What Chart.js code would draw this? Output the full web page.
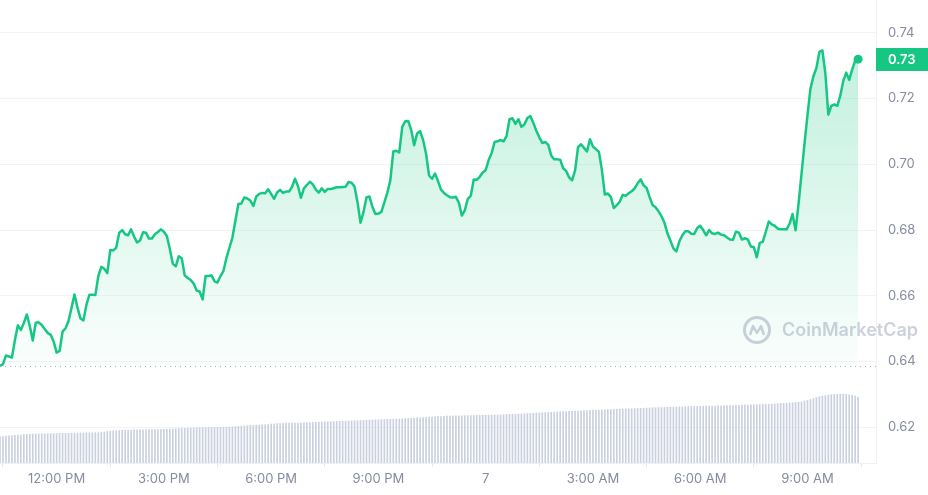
<!DOCTYPE html>
<html>
<head>
<meta charset="utf-8">
<script src="https://cdn.jsdelivr.net/npm/chart.js@4.4.1/dist/chart.umd.min.js"></script>
<style>
  html, body { margin: 0; padding: 0; background: #fff; }
  canvas { display: block; }
</style>
</head>
<body>
<canvas id="priceChart" width="928" height="495"></canvas>
<script>
// 5-minute closes, starting 10:25 AM (minutes counted from midnight of day 6)
const startMinute = 625;
const stepMinutes = 5;

const prices = [
  0.6386, 0.6392, 0.6418, 0.6415, 0.6412, 0.6465, 0.6510, 0.6496, 0.6517, 0.6543, 0.6508, 0.6464,
  0.6518, 0.6519, 0.6511, 0.6499, 0.6487, 0.6481, 0.6461, 0.6427, 0.6432, 0.6491, 0.6501, 0.6523,
  0.6563, 0.6604, 0.6564, 0.6531, 0.6525, 0.6572, 0.6603, 0.6603, 0.6602, 0.6660, 0.6688, 0.6682,
  0.6669, 0.6739, 0.6738, 0.6746, 0.6791, 0.6800, 0.6787, 0.6784, 0.6802, 0.6780, 0.6762, 0.6768,
  0.6793, 0.6792, 0.6774, 0.6774, 0.6787, 0.6794, 0.6802, 0.6795, 0.6782, 0.6742, 0.6697, 0.6690,
  0.6720, 0.6714, 0.6662, 0.6654, 0.6648, 0.6637, 0.6616, 0.6613, 0.6589, 0.6660, 0.6660, 0.6662,
  0.6644, 0.6640, 0.6660, 0.6676, 0.6715, 0.6746, 0.6777, 0.6828, 0.6879, 0.6881, 0.6899, 0.6896,
  0.6890, 0.6873, 0.6902, 0.6910, 0.6913, 0.6912, 0.6924, 0.6910, 0.6895, 0.6914, 0.6922, 0.6913,
  0.6917, 0.6917, 0.6931, 0.6956, 0.6934, 0.6898, 0.6927, 0.6937, 0.6947, 0.6939, 0.6923, 0.6914,
  0.6927, 0.6916, 0.6925, 0.6925, 0.6927, 0.6930, 0.6930, 0.6931, 0.6932, 0.6946, 0.6944, 0.6932,
  0.6884, 0.6822, 0.6855, 0.6899, 0.6902, 0.6870, 0.6849, 0.6850, 0.6855, 0.6884, 0.6914, 0.6951,
  0.7039, 0.7041, 0.7036, 0.7114, 0.7131, 0.7132, 0.7105, 0.7058, 0.7094, 0.7101, 0.7074, 0.7032,
  0.6966, 0.6956, 0.6972, 0.6949, 0.6923, 0.6913, 0.6906, 0.6900, 0.6899, 0.6901, 0.6883, 0.6844,
  0.6860, 0.6895, 0.6904, 0.6954, 0.6953, 0.6962, 0.6975, 0.6982, 0.7013, 0.7034, 0.7068, 0.7070,
  0.7074, 0.7070, 0.7086, 0.7137, 0.7140, 0.7123, 0.7137, 0.7114, 0.7121, 0.7141, 0.7147, 0.7126,
  0.7102, 0.7082, 0.7065, 0.7068, 0.7059, 0.7027, 0.7015, 0.7015, 0.7014, 0.6988, 0.6980, 0.6960,
  0.6951, 0.6981, 0.7052, 0.7061, 0.7050, 0.7039, 0.7076, 0.7054, 0.7046, 0.7038, 0.6983, 0.6908,
  0.6911, 0.6901, 0.6867, 0.6876, 0.6886, 0.6907, 0.6904, 0.6912, 0.6918, 0.6927, 0.6942, 0.6954,
  0.6936, 0.6928, 0.6901, 0.6876, 0.6869, 0.6857, 0.6842, 0.6822, 0.6790, 0.6768, 0.6744, 0.6735,
  0.6765, 0.6784, 0.6796, 0.6796, 0.6789, 0.6788, 0.6806, 0.6813, 0.6800, 0.6784, 0.6800, 0.6790,
  0.6788, 0.6792, 0.6786, 0.6784, 0.6777, 0.6771, 0.6770, 0.6795, 0.6792, 0.6771, 0.6775, 0.6771,
  0.6750, 0.6748, 0.6717, 0.6761, 0.6764, 0.6794, 0.6826, 0.6817, 0.6813, 0.6804, 0.6802, 0.6802,
  0.6802, 0.6819, 0.6849, 0.6799, 0.6879, 0.6971, 0.7062, 0.7150, 0.7230, 0.7268, 0.7293, 0.7342,
  0.7347, 0.7277, 0.7151, 0.7178, 0.7182, 0.7178, 0.7208, 0.7253, 0.7279, 0.7257, 0.7288, 0.7315,
  0.7320
];

// rolling volume (millions), one bar per price point
const volumeM = [
  26.3, 26.5, 26.8, 27.1, 27.3, 27.6, 27.8, 28.0, 28.3, 28.5, 28.8, 29.0,
  29.0, 29.1, 29.2, 29.2, 29.3, 29.4, 29.4, 29.5, 29.6, 29.6, 29.7, 29.8,
  29.8, 29.9, 30.0, 30.0, 30.1, 30.2, 30.2, 30.3, 30.3, 30.3, 30.6, 31.0,
  31.4, 31.7, 32.0, 32.2, 32.4, 32.6, 32.8, 33.0, 33.0, 33.1, 33.1, 33.2,
  33.2, 33.3, 33.3, 33.4, 33.4, 33.5, 33.6, 33.7, 33.8, 34.0, 34.1, 34.3,
  34.4, 34.6, 34.7, 34.9, 35.0, 35.0, 35.1, 35.2, 35.3, 35.3, 35.4, 35.5,
  35.6, 35.7, 35.7, 35.8, 35.9, 36.0, 36.2, 36.4, 36.6, 36.8, 37.0, 37.2,
  37.4, 37.6, 37.8, 38.0, 38.2, 38.3, 38.5, 38.8, 39.0, 39.3, 39.5, 39.7,
  39.8, 39.8, 39.9, 40.0, 40.0, 40.1, 40.2, 40.4, 40.5, 40.6, 40.7, 40.8,
  41.0, 41.1, 41.2, 41.3, 41.4, 41.6, 41.7, 41.8, 41.9, 42.0, 42.2, 42.3,
  42.4, 42.5, 42.6, 42.8, 42.9, 43.0, 43.1, 43.2, 43.4, 43.5, 43.6, 43.7,
  43.8, 43.9, 44.0, 44.2, 44.4, 44.5, 44.7, 44.9, 45.1, 45.2, 45.4, 45.6,
  45.8, 45.9, 46.1, 46.3, 46.5, 46.6, 46.8, 47.0, 47.0, 47.1, 47.2, 47.2,
  47.3, 47.4, 47.4, 47.5, 47.6, 47.6, 47.7, 47.8, 47.8, 47.9, 48.0, 48.0,
  48.1, 48.3, 48.4, 48.6, 48.7, 48.9, 49.0, 49.2, 49.3, 49.5, 49.6, 49.8,
  49.9, 50.1, 50.2, 50.4, 50.5, 50.7, 50.8, 51.0, 51.1, 51.3, 51.4, 51.6,
  51.7, 51.9, 52.0, 52.2, 52.3, 52.5, 52.6, 52.8, 52.9, 53.0, 53.1, 53.2,
  53.4, 53.5, 53.6, 53.7, 53.8, 54.0, 54.1, 54.2, 54.3, 54.4, 54.6, 54.7,
  54.8, 54.9, 55.0, 55.2, 55.3, 55.4, 55.5, 55.6, 55.7, 55.8, 55.9, 56.0,
  56.1, 56.1, 56.2, 56.3, 56.4, 56.5, 56.6, 56.6, 56.7, 56.8, 56.9, 57.0,
  57.0, 57.1, 57.2, 57.3, 57.3, 57.4, 57.5, 57.6, 57.7, 57.8, 57.9, 58.0,
  58.1, 58.2, 58.3, 58.4, 58.5, 58.6, 58.7, 58.9, 59.1, 59.3, 59.5, 59.6,
  59.8, 60.0, 60.2, 60.4, 60.7, 61.2, 62.0, 62.8, 63.5, 64.5, 65.5, 66.3,
  66.9, 67.4, 67.9, 68.3, 68.6, 68.8, 69.0, 69.0, 68.7, 68.2, 67.6, 66.8,
  66.0
];

const xTickMinutes = [720, 900, 1080, 1260, 1440, 1620, 1800, 1980];
const xTickLabels = ['12:00 PM', '3:00 PM', '6:00 PM', '9:00 PM', '7', '3:00 AM', '6:00 AM', '9:00 AM'];
const yTicks = [0.62, 0.64, 0.66, 0.68, 0.70, 0.72, 0.74];

const times = prices.map((_, i) => startMinute + i * stepMinutes);
const openPrice = prices[0];
const lastPrice = prices[prices.length - 1];

const GREEN = '#16c784';
const TICK_GREY = '#858ca2';
const GRID = '#f2f3f6';

Chart.defaults.font.family = 'Inter, "Noto Sans", sans-serif';

function fillGradient(context) {
    const chart = context.chart;
    const area = chart.chartArea;
    if (!area) return 'rgba(22,199,132,0.15)';
    const yBase = chart.scales.y.getPixelForValue(openPrice);
    const g = chart.ctx.createLinearGradient(0, area.top, 0, yBase);
    g.addColorStop(0, 'rgba(22,199,132,0.30)');
    g.addColorStop(1, 'rgba(22,199,132,0.02)');
    return g;
}

// axes should not push the plot inward for label overhang
function noPadding(scale) {
    scale.paddingLeft = 0;
    scale.paddingRight = 0;
    scale.paddingTop = 0;
    scale.paddingBottom = 0;
}

// dotted line at the opening price
const openLine = {
    id: 'openLine',
    afterDatasetsDraw(chart) {
        const { ctx, chartArea } = chart;
        const y = Math.round(chart.scales.y.getPixelForValue(openPrice)) + 0.5;
        ctx.save();
        ctx.strokeStyle = '#a9b0c2';
        ctx.lineWidth = 1;
        ctx.setLineDash([1, 4]);
        ctx.beginPath();
        ctx.moveTo(chartArea.left, y);
        ctx.lineTo(chartArea.right, y);
        ctx.stroke();
        ctx.restore();
    }
};

// CoinMarketCap watermark
const watermark = {
    id: 'watermark',
    beforeDatasetsDraw(chart) {
        const ctx = chart.ctx;
        const cx = 757, cy = 330;
        ctx.save();
        ctx.strokeStyle = '#cdd1dc';
        ctx.lineWidth = 3;
        ctx.beginPath();
        ctx.arc(cx, cy, 12.5, 0, Math.PI * 2);
        ctx.stroke();
        ctx.lineWidth = 2.5;
        ctx.lineJoin = 'round';
        ctx.beginPath();
        ctx.moveTo(cx - 7, cy + 5);
        ctx.lineTo(cx - 4, cy - 4);
        ctx.lineTo(cx, cy + 3);
        ctx.lineTo(cx + 4, cy - 4);
        ctx.lineTo(cx + 7, cy + 5);
        ctx.stroke();
        ctx.fillStyle = '#cdd1dc';
        ctx.font = '600 18px Inter, sans-serif';
        ctx.textBaseline = 'middle';
        ctx.fillText('CoinMarketCap', 782, cy + 1);
        ctx.restore();
    }
};

// current price badge on the right axis
const priceBadge = {
    id: 'priceBadge',
    afterDraw(chart) {
        const ctx = chart.ctx;
        const y = chart.scales.y.getPixelForValue(lastPrice);
        const left = chart.chartArea.right;
        ctx.save();
        ctx.fillStyle = GREEN;
        ctx.fillRect(left, Math.round(y - 11.5), chart.width - left, 23);
        ctx.fillStyle = '#fff';
        ctx.font = '600 13px Inter, sans-serif';
        ctx.textBaseline = 'middle';
        ctx.fillText(lastPrice.toFixed(2), left + 12, y + 0.5);
        ctx.restore();
    }
};

const lastIndex = prices.length - 1;

new Chart(document.getElementById('priceChart'), {
    type: 'line',
    data: {
        labels: times,
        datasets: [
            {
                type: 'line',
                data: prices,
                yAxisID: 'y',
                borderColor: GREEN,
                borderWidth: 2.5,
                borderJoinStyle: 'round',
                borderCapStyle: 'round',
                tension: 0,
                backgroundColor: fillGradient,
                fill: { target: { value: openPrice }, below: 'rgba(234,57,67,0.06)' },
                pointRadius: ctx => ctx.dataIndex === lastIndex ? 4.5 : 0,
                pointBackgroundColor: GREEN,
                pointBorderWidth: 0,
                order: 1
            },
            {
                type: 'bar',
                data: volumeM,
                yAxisID: 'yv',
                backgroundColor: '#cbd0e0',
                barThickness: 1,
                order: 2
            }
        ]
    },
    options: {
        responsive: false,
        animation: false,
        layout: { padding: 0, autoPadding: false },
        plugins: {
            legend: { display: false },
            tooltip: { enabled: false }
        },
        scales: {
            x: {
                type: 'linear',
                min: 625,
                max: 2095,
                offset: false,
                afterBuildTicks: scale => { scale.ticks = xTickMinutes.map(v => ({ value: v })); },
                afterFit: scale => { scale.height = 32; noPadding(scale); },
                grid: { drawOnChartArea: false, drawTicks: true, tickLength: 4, color: '#e6e8ee' },
                border: { display: true, color: '#eef0f3' },
                ticks: {
                    autoSkip: false,
                    maxRotation: 0,
                    padding: 4,
                    color: TICK_GREY,
                    font: { size: 13 },
                    callback: value => {
                        const i = xTickMinutes.indexOf(value);
                        return i >= 0 ? xTickLabels[i] : '';
                    }
                }
            },
            y: {
                position: 'right',
                min: 0.6091,
                max: 0.7500,
                afterBuildTicks: scale => { scale.ticks = yTicks.map(v => ({ value: v })); },
                afterFit: scale => { scale.width = 52; noPadding(scale); },
                grid: { color: GRID, drawTicks: false },
                border: { display: true, color: '#eef0f3' },
                ticks: {
                    padding: 12,
                    color: TICK_GREY,
                    font: { size: 13 },
                    callback: value => Number(value).toFixed(2)
                }
            },
            yv: {
                display: false,
                min: 0,
                max: 463
            }
        }
    },
    plugins: [watermark, openLine, priceBadge]
});
</script>
</body>
</html>
